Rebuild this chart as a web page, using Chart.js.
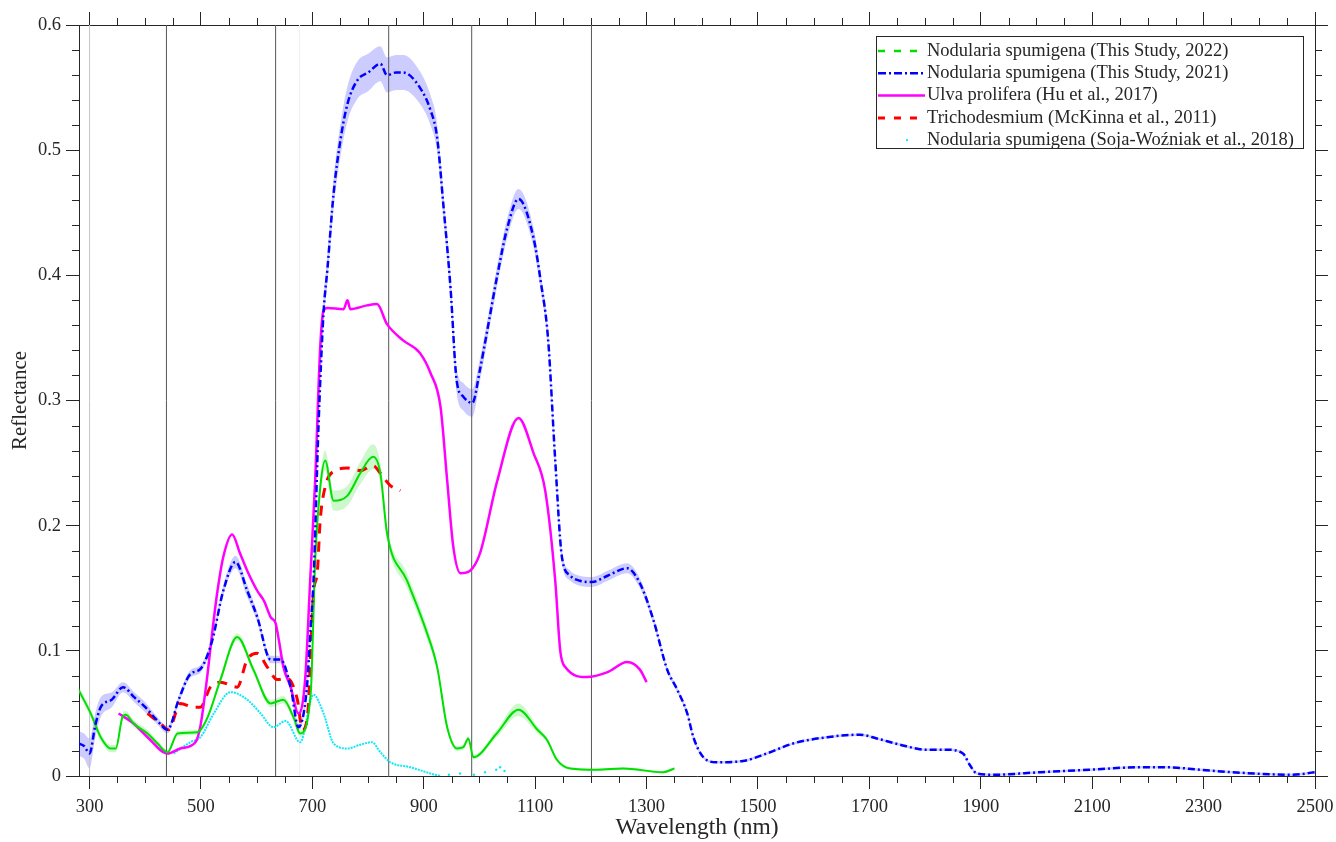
<!DOCTYPE html>
<html>
<head>
<meta charset="utf-8">
<script src="https://cdn.jsdelivr.net/npm/chart.js@4.4.0/dist/chart.umd.min.js"></script>
<style>html,body{margin:0;padding:0;background:#fff}</style>
</head>
<body>
<canvas id="c" width="1336" height="842"></canvas>
<script>
// Nodularia spumigena (This Study, 2021) - mean and std band
const wl2021 = [280,290,300,310,320,340,360,380,400,420,440,460,480,500,520,540,562,583,601,625,643,661,675,690,697,702,711,720,727,738,750,763,781,800,822,834,850,863,893,912,924,935,948,959,971,987,1001,1014,1032,1050,1070,1097,1110,1123,1136,1148,1163,1180,1202,1230,1265,1288,1312,1337,1355,1373,1384,1402,1426,1473,1516,1563,1624,1683,1713,1755,1803,1839,1868,1880,1893,1922,2006,2096,2185,2233,2293,2352,2460,2500];
const refl2021 = [0.026,0.024,0.018,0.040,0.055,0.061,0.071,0.063,0.055,0.045,0.037,0.061,0.081,0.086,0.108,0.148,0.171,0.148,0.127,0.093,0.093,0.071,0.039,0.070,0.120,0.156,0.280,0.370,0.405,0.465,0.507,0.537,0.556,0.562,0.569,0.560,0.562,0.562,0.550,0.532,0.510,0.457,0.390,0.316,0.303,0.298,0.325,0.356,0.400,0.438,0.461,0.430,0.395,0.350,0.252,0.175,0.160,0.156,0.155,0.160,0.166,0.154,0.125,0.085,0.069,0.050,0.031,0.015,0.011,0.012,0.018,0.026,0.031,0.033,0.030,0.025,0.021,0.021,0.018,0.009,0.002,0.001,0.003,0.005,0.007,0.007,0.005,0.003,0.001,0.003];
const sd2021 = [0.010,0.010,0.012,0.010,0.008,0.006,0.004,0.004,0.004,0.003,0.003,0.003,0.003,0.003,0.003,0.004,0.005,0.005,0.004,0.003,0.003,0.003,0.003,0.004,0.005,0.006,0.008,0.010,0.011,0.012,0.013,0.014,0.015,0.015,0.014,0.014,0.014,0.014,0.013,0.012,0.011,0.010,0.010,0.010,0.011,0.011,0.009,0.008,0.008,0.008,0.008,0.008,0.007,0.006,0.006,0.005,0.004,0.004,0.004,0.004,0.004,0.004,0.003,0.002,0.002,0.002,0.002,0.001,0.001,0.001,0.001,0.001,0.001,0.001,0.001,0.001,0.001,0.001,0.001,0.001,0.001,0.001,0.001,0.001,0.001,0.001,0.001,0.001,0.001,0.001];

// Nodularia spumigena (This Study, 2022)
const wl2022 = [280,302,320,338,347,359,365,379,404,422,440,458,494,512,535,565,594,625,648,666,678,697,705,714,723,738,763,786,809,822,834,870,906,924,942,960,971,980,989,1031,1070,1104,1121,1139,1163,1211,1258,1330,1350];
const refl2022 = [0.069,0.050,0.031,0.022,0.022,0.047,0.049,0.042,0.034,0.026,0.019,0.034,0.035,0.047,0.077,0.111,0.085,0.058,0.061,0.047,0.034,0.066,0.172,0.230,0.252,0.220,0.224,0.242,0.255,0.242,0.194,0.156,0.114,0.087,0.039,0.022,0.023,0.030,0.015,0.034,0.053,0.037,0.029,0.013,0.006,0.005,0.006,0.003,0.006];
const sd2022 = [0.003,0.003,0.003,0.003,0.003,0.003,0.003,0.003,0.003,0.002,0.002,0.002,0.002,0.002,0.003,0.003,0.003,0.003,0.003,0.003,0.003,0.004,0.006,0.008,0.008,0.008,0.008,0.009,0.010,0.008,0.006,0.006,0.005,0.004,0.003,0.002,0.002,0.002,0.002,0.003,0.005,0.003,0.002,0.002,0.001,0.001,0.001,0.001,0.001];

// Ulva prolifera (Hu et al., 2017)
const wlUlva = [352,379,404,440,463,490,499,510,520,529,540,556,570,583,601,613,625,634,640,648,661,675,687,696,705,714,720,727,756,763,768,798,816,834,863,893,912,930,942,953,966,983,1001,1032,1070,1097,1118,1136,1145,1154,1193,1230,1265,1288,1300];
const reflUlva = [0.050,0.042,0.031,0.018,0.022,0.027,0.040,0.075,0.114,0.146,0.175,0.193,0.178,0.164,0.148,0.140,0.127,0.122,0.108,0.087,0.071,0.050,0.077,0.156,0.236,0.342,0.372,0.374,0.373,0.380,0.373,0.376,0.377,0.361,0.348,0.338,0.322,0.295,0.236,0.183,0.162,0.164,0.178,0.236,0.286,0.258,0.228,0.156,0.100,0.087,0.079,0.083,0.091,0.085,0.075];

// Trichodesmium (McKinna et al., 2011)
const wlTricho = [404,427,442,463,487,499,517,535,565,583,601,619,637,655,673,682,691,702,709,714,723,741,763,786,809,822,840,858];
const reflTricho = [0.050,0.042,0.037,0.058,0.055,0.055,0.071,0.075,0.071,0.093,0.098,0.087,0.077,0.078,0.061,0.037,0.047,0.146,0.164,0.204,0.231,0.244,0.246,0.244,0.248,0.242,0.232,0.228];

// Nodularia spumigena (Soja-Wozniak et al., 2018)
const wlSoja = [451,481,499,523,553,583,607,630,652,678,702,720,738,763,786,807,822,840,876,912,930];
const reflSoja = [0.018,0.027,0.031,0.050,0.067,0.061,0.050,0.039,0.044,0.027,0.065,0.050,0.026,0.022,0.025,0.027,0.019,0.011,0.007,0.002,0.000];
const wlSojaDots = [945,965,990,1010,1030,1037,1045];
const reflSojaDots = [0.001,0.002,0.001,0.003,0.005,0.007,0.004];

// vertical reference lines
const markerWl = [300,438,634,677,837,986,1201];
const markerShade = ['#c4c4c4','#555555','#555555','#f0f0f0','#555555','#555555','#555555'];

const xTicks = [300,500,700,900,1100,1300,1500,1700,1900,2100,2300,2500];
const xTickLabels = ['300','500','700','900','1100','1300','1500','1700','1900','2100','2300','2500'];
const yTicks = [0,0.1,0.2,0.3,0.4,0.5,0.6];
const yTickLabels = ['0','0.1','0.2','0.3','0.4','0.5','0.6'];

const legendLabels = [
  'Nodularia spumigena (This Study, 2022)',
  'Nodularia spumigena (This Study, 2021)',
  'Ulva prolifera (Hu et al., 2017)',
  'Trichodesmium (McKinna et al., 2011)',
  'Nodularia spumigena (Soja-Woźniak et al., 2018)'
];

const BLUE = '#0000ff', GREEN = '#00e000', MAG = '#ff00ff', RED = '#ff0000', CYAN = '#10e8f8';
const INK = '#262626';
const serif = '"Liberation Serif", "Times New Roman", serif';

const pts = (xs, ys) => xs.map((x, i) => ({ x, y: ys[i] }));
const line = (data, color, width, dash) => ({
  data, borderColor: color, borderWidth: width, borderDash: dash || [],
  pointRadius: 0, fill: false, cubicInterpolationMode: 'monotone'
});
const band = (xs, ys, sd, sign, fill, bg) => ({
  data: pts(xs, ys.map((v, i) => v + sign * sd[i])),
  borderWidth: 0, borderColor: 'transparent', pointRadius: 0,
  fill: fill, backgroundColor: bg, cubicInterpolationMode: 'monotone'
});

const datasets = [
  line(pts(wl2021, refl2021), BLUE, 2.5, [7, 3, 2, 3]),
  line(pts(wl2022, refl2022), GREEN, 2),
  line(pts(wlUlva, reflUlva), MAG, 2.5),
  line(pts(wlTricho, reflTricho), RED, 3, [10, 8]),
  line(pts(wlSoja, reflSoja), CYAN, 2, [2, 1]),
  { data: pts(wlSojaDots, reflSojaDots), showLine: false, pointRadius: 1.2, pointBorderWidth: 0, pointBackgroundColor: CYAN },
  band(wl2021, refl2021, sd2021, 1, '+1', 'rgba(0,0,255,0.2)'),
  band(wl2021, refl2021, sd2021, -1, false, 'transparent'),
  band(wl2022, refl2022, sd2022, 1, '+1', 'rgba(0,220,0,0.2)'),
  band(wl2022, refl2022, sd2022, -1, false, 'transparent'),
  ...markerWl.map((w, i) => ({
    data: [{ x: w, y: 0 }, { x: w, y: 0.6 }], borderColor: markerShade[i], borderWidth: 1, pointRadius: 0, fill: false
  }))
];

const axisGrid = { drawOnChartArea: false, drawTicks: true, tickLength: 13, color: INK, tickColor: INK, tickWidth: 1 };
const axisBorder = { display: true, color: INK, width: 1 };
const setX = s => { s.ticks = xTicks.map(v => ({ value: v })); };
const setY = s => { s.ticks = yTicks.map(v => ({ value: v })); };
const pick = (vals, labels) => v => labels[vals.findIndex(t => Math.abs(t - v) < 1e-9)];
const fixBox = (w, h) => s => {
  if (w != null) s.width = w;
  if (h != null) s.height = h;
  s.paddingLeft = 0; s.paddingRight = 0; s.paddingTop = 0; s.paddingBottom = 0;
};

// minor ticks on all four sides
const minorTicks = {
  id: 'minorTicks',
  afterDraw(chart) {
    const { ctx, chartArea: a, scales } = chart;
    ctx.save();
    ctx.strokeStyle = INK; ctx.lineWidth = 1;
    ctx.beginPath();
    for (let v = 300; v <= 2500; v += 50) {
      if (xTicks.includes(v)) continue;
      const px = Math.round(scales.x.getPixelForValue(v)) + 0.5;
      ctx.moveTo(px, a.bottom); ctx.lineTo(px, a.bottom + 7);
      ctx.moveTo(px, a.top); ctx.lineTo(px, a.top - 7);
    }
    for (let k = 1; k < 30; k++) {
      if (k % 5 === 0) continue;
      const py = Math.round(scales.y.getPixelForValue(k * 0.02)) + 0.5;
      ctx.moveTo(a.left, py); ctx.lineTo(a.left - 7, py);
      ctx.moveTo(a.right, py); ctx.lineTo(a.right + 7, py);
    }
    ctx.stroke();
    ctx.restore();
  }
};

// boxed legend, top right
const boxLegend = {
  id: 'boxLegend',
  afterDraw(chart) {
    const { ctx, chartArea: a } = chart;
    const styles = [
      { c: GREEN, w: 2.5, d: [7, 9] },
      { c: BLUE, w: 2.5, d: [8, 3, 2, 3] },
      { c: MAG, w: 2.5, d: [] },
      { c: RED, w: 3, d: [7, 9] },
      { c: CYAN, dot: true }
    ];
    const W = 427, H = 112;
    const left = a.right - 12 - W, top = a.top + 11;
    ctx.save();
    ctx.fillStyle = '#fff';
    ctx.fillRect(left, top, W, H);
    ctx.strokeStyle = INK; ctx.lineWidth = 1;
    ctx.strokeRect(left + 0.5, top + 0.5, W, H);
    ctx.font = '18.5px ' + serif;
    ctx.textBaseline = 'middle';
    legendLabels.forEach((t, i) => {
      const y = top + 15 + i * 22.3;
      const s = styles[i];
      if (s.dot) {
        ctx.fillStyle = s.c;
        ctx.fillRect(left + 30, y - 1, 2, 2);
      } else {
        ctx.strokeStyle = s.c; ctx.lineWidth = s.w; ctx.setLineDash(s.d);
        ctx.beginPath(); ctx.moveTo(left + 2, y); ctx.lineTo(left + 49, y); ctx.stroke();
        ctx.setLineDash([]);
      }
      ctx.fillStyle = INK;
      ctx.fillText(t, left + 51, y);
    });
    ctx.restore();
  }
};

new Chart(document.getElementById('c').getContext('2d'), {
  type: 'line',
  data: { datasets },
  options: {
    responsive: false, animation: false, devicePixelRatio: 1,
    layout: { padding: 0 },
    plugins: { legend: { display: false }, tooltip: { enabled: false }, filler: { drawTime: 'beforeDatasetsDraw' } },
    scales: {
      x: {
        type: 'linear', position: 'bottom', min: 281, max: 2500,
        afterBuildTicks: setX, afterFit: fixBox(null, 66),
        grid: axisGrid, border: axisBorder,
        ticks: { autoSkip: false, maxRotation: 0, padding: 7, color: INK, font: { family: serif, size: 18.5 },
                 callback: pick(xTicks, xTickLabels) },
        title: { display: true, text: 'Wavelength (nm)', color: INK, font: { family: serif, size: 23.5 }, padding: 0 }
      },
      x2: {
        type: 'linear', position: 'top', min: 281, max: 2500, display: true,
        afterBuildTicks: setX, afterFit: fixBox(null, 25),
        grid: axisGrid, border: axisBorder, ticks: { display: false }
      },
      y: {
        type: 'linear', position: 'left', min: 0, max: 0.6,
        afterBuildTicks: setY, afterFit: fixBox(79, null),
        grid: axisGrid, border: axisBorder,
        ticks: { autoSkip: false, padding: 5, color: INK, font: { family: serif, size: 18.5 },
                 callback: pick(yTicks, yTickLabels) },
        title: { display: true, text: 'Reflectance', color: INK, font: { family: serif, size: 21 }, padding: { top: 8, bottom: 0 } }
      },
      y2: {
        type: 'linear', position: 'right', min: 0, max: 0.6, display: true,
        afterBuildTicks: setY, afterFit: fixBox(21, null),
        grid: axisGrid, border: axisBorder, ticks: { display: false }
      }
    }
  },
  plugins: [minorTicks, boxLegend]
});
</script>
</body>
</html>
